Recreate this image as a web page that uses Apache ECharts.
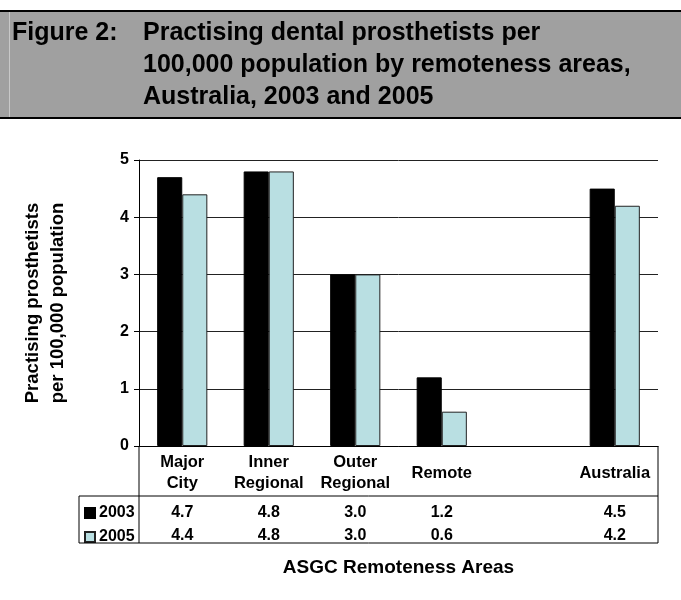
<!DOCTYPE html>
<html>
<head>
<meta charset="utf-8">
<script src="https://cdn.jsdelivr.net/npm/echarts@6/dist/echarts.min.js"></script>
<style>
html,body{margin:0;padding:0;background:#fff;}
#chart{width:681px;height:600px;}
</style>
</head>
<body>
<div id="chart"></div>
<script>
// ---- data ----
var categories = ['Major\nCity', 'Inner\nRegional', 'Outer\nRegional', 'Remote', '', 'Australia'];
var seriesNames = ['2003', '2005'];
var values2003 = [4.7, 4.8, 3.0, 1.2, null, 4.5];
var values2005 = [4.4, 4.8, 3.0, 0.6, null, 4.2];
var yTicks = [0, 1, 2, 3, 4, 5];

var titleLabel = 'Figure 2:';
var titleText = 'Practising dental prosthetists per\n100,000 population by remoteness areas,\nAustralia, 2003 and 2005';
var yAxisTitle = 'Practising prosthetists\nper 100,000 population';
var xAxisTitle = 'ASGC Remoteness Areas';

// ---- layout ----
var W = 681, H = 600;
var gridLeft = 139, gridRight = 658, gridTop = 160, gridBottom = 446;
var tableMid = 496, tableBottom = 543, tableLeft = 79;
var FONT = 'Arial, "Liberation Sans", sans-serif';
var c2003 = '#000000', c2005 = '#b9dfe2';

function fmt(v) { return v == null ? '' : v.toFixed(1); }

var chart = echarts.init(document.getElementById('chart'), null, {renderer: 'canvas'});

function line(x1, y1, x2, y2, w) { return {type: 'line', shape: {x1: x1, y1: y1, x2: x2, y2: y2}, style: {stroke: '#000', lineWidth: w || 1}, z: 10}; }

var valueAxisBase = {
  type: 'category',
  gridIndex: 0,
  position: 'bottom',
  axisLine: {show: false},
  axisTick: {show: false},
  splitLine: {show: false},
  axisLabel: {interval: 0, verticalAlign: 'middle', color: '#000', fontFamily: FONT, fontWeight: 'bold', fontSize: 16}
};

var titleStyle = {fontFamily: FONT, fontWeight: 'bold', fontSize: 25, lineHeight: 32, color: '#000'};

var option = {
  backgroundColor: '#fff',
  animation: false,
  title: [
    {text: titleLabel, left: 12, top: 17, padding: 0, textStyle: titleStyle},
    {text: titleText, left: 143, top: 17, padding: 0, textStyle: titleStyle}
  ],
  legend: {
    orient: 'vertical',
    left: 84, top: 505, padding: 0,
    itemWidth: 10, itemHeight: 10, itemGap: 8,
    icon: 'rect',
    data: seriesNames,
    textStyle: {fontFamily: FONT, fontWeight: 'bold', fontSize: 16, lineHeight: 16, color: '#000', padding: [0, 0, 0, -1]}
  },
  grid: {left: gridLeft, right: W - gridRight, top: gridTop, bottom: H - gridBottom, containLabel: false},
  xAxis: [
    {
      type: 'category',
      data: categories,
      position: 'bottom',
      axisLine: {show: true, lineStyle: {color: '#000', width: 1}},
      axisTick: {show: false},
      splitLine: {show: false},
      axisLabel: {interval: 0, verticalAlign: 'middle', margin: 27, color: '#000', fontFamily: FONT, fontWeight: 'bold', fontSize: 16.5, lineHeight: 21},
      name: xAxisTitle,
      nameLocation: 'middle',
      nameGap: 122,
      nameTextStyle: {fontFamily: FONT, fontWeight: 'bold', fontSize: 19, color: '#000', verticalAlign: 'middle'}
    },
    Object.assign({}, valueAxisBase, {data: values2003.map(fmt), axisLabel: Object.assign({}, valueAxisBase.axisLabel, {margin: 67})}),
    Object.assign({}, valueAxisBase, {data: values2005.map(fmt), axisLabel: Object.assign({}, valueAxisBase.axisLabel, {margin: 90})})
  ],
  yAxis: {
    type: 'value',
    min: yTicks[0], max: yTicks[yTicks.length - 1], interval: 1,
    axisLine: {show: true, lineStyle: {color: '#000', width: 1}},
    axisTick: {show: true, length: 5, lineStyle: {color: '#000'}},
    splitLine: {show: true, lineStyle: {color: '#222', width: 1}},
    axisLabel: {margin: 10, color: '#000', fontFamily: FONT, fontWeight: 'bold', fontSize: 16},
    name: yAxisTitle,
    nameLocation: 'middle',
    nameRotate: 90,
    nameGap: 94,
    nameTextStyle: {fontFamily: FONT, fontWeight: 'bold', fontSize: 18.5, lineHeight: 25, color: '#000', align: 'center', verticalAlign: 'middle'}
  },
  series: [
    {name: seriesNames[0], type: 'bar', xAxisIndex: 0, data: values2003, barGap: '0%', barCategoryGap: '42%',
     itemStyle: {color: c2003, borderColor: '#000', borderWidth: 1}},
    {name: seriesNames[1], type: 'bar', xAxisIndex: 0, data: values2005, barGap: '0%', barCategoryGap: '42%',
     itemStyle: {color: c2005, borderColor: '#222', borderWidth: 1}}
  ],
  graphic: [
    {type: 'rect', shape: {x: 0, y: 11, width: W, height: 107}, style: {fill: '#a0a0a0'}, z: -10},
    line(0, 11, W, 11, 2), line(0, 118, W, 118, 2),
    {type: 'line', shape: {x1: 9.5, y1: 12, x2: 9.5, y2: 117}, style: {stroke: '#c8c8c8', lineWidth: 1}, z: -5},
    line(gridLeft, gridBottom, gridLeft, tableBottom),
    line(gridRight, gridBottom, gridRight, tableBottom),
    line(tableLeft, tableMid, tableLeft, tableBottom),
    line(tableLeft, tableMid, gridRight, tableMid),
    line(tableLeft, tableBottom, gridRight, tableBottom)
  ]
};

chart.setOption(option);
</script>
</body>
</html>
